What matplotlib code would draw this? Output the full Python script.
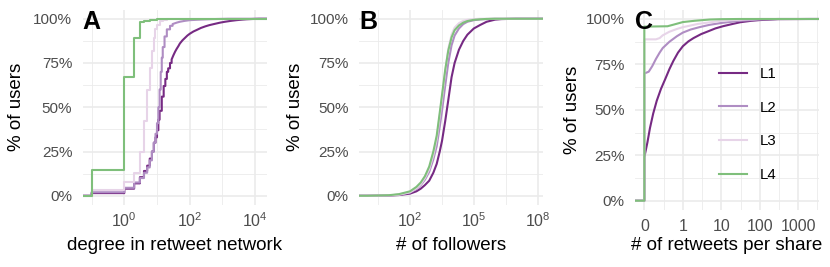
import numpy as np
import matplotlib.pyplot as plt
from matplotlib.ticker import FixedLocator, FixedFormatter, NullFormatter

plt.rcParams['font.family'] = ['Liberation Sans', 'DejaVu Sans']
plt.rcParams['mathtext.fontset'] = 'custom'
plt.rcParams['mathtext.rm'] = 'Liberation Sans'
plt.rcParams['mathtext.it'] = 'Liberation Sans:italic'

# ---- data ----
series = ['L1', 'L2', 'L3', 'L4']
colors = ['#762a83', '#af8dc3', '#e7d4e8', '#7fbf7b']

# A: degree in retweet network (degree 0 drawn at 0.1), cumulative % of users
deg_l1 = [0.1, 1, 2, 3, 4, 5, 6, 7, 8, 9, 10, 11, 12, 14, 16, 18, 20, 22, 25, 28,
          32, 36, 40, 45, 50, 60, 70, 85, 100, 130, 170, 220, 300, 400, 550, 850,
          1200, 1800, 2700, 4000, 5500, 8000, 13000]
cdf_deg_l1 = [1.5, 4, 7, 10.5, 14, 17, 21, 25, 30, 33, 37, 43, 48, 56, 62, 66, 70, 72,
              75, 77, 79.5, 81.5, 83, 84.5, 86, 87.8, 89, 90.5, 91.5, 92.8, 93.8, 94.8,
              95.7, 96.4, 97, 97.8, 98.3, 98.8, 99.2, 99.5, 99.7, 99.85, 100]
deg_l2 = [0.1, 1, 2, 3, 4, 5, 6, 7, 8, 9, 10, 11, 12, 13, 14, 15, 17, 20, 25, 30,
          40, 50, 70, 100, 200, 500, 1500]
cdf_deg_l2 = [2, 4.5, 7.5, 10, 13, 16, 20, 25, 30, 35, 41, 50, 60, 70, 78, 84, 90, 94,
              96, 97, 97.8, 98.3, 98.8, 99.2, 99.5, 99.8, 100]
deg_l3 = [0.1, 1, 2, 3, 4, 5, 6, 7, 8, 9, 10, 12, 15, 20]
cdf_deg_l3 = [3.2, 8, 13, 25, 42, 60, 72, 82, 89, 94, 96.5, 98.5, 99.5, 100]
deg_l4 = [0.1, 1, 2, 3, 4, 6, 10]
cdf_deg_l4 = [14.6, 67, 89, 98.3, 99, 99.5, 100]

# B: number of followers
followers = [1, 10, 30, 100, 200, 320, 500, 800, 1250, 1800, 2500, 3200, 4500, 6300,
             9000, 12500, 20000, 32000, 50000, 100000, 200000, 400000, 1000000,
             2000000, 10000000, 72000000]
cdf_fol_l1 = [0, 0.1, 0.4, 1.2, 2.5, 4, 6, 8.5, 13, 18, 25, 31, 42, 54, 67, 75, 82.5,
              87.5, 91, 94.5, 96.5, 98.3, 99.5, 99.8, 100, 100]
cdf_fol_l2 = [0, 0.2, 0.6, 1.8, 3.8, 6, 9, 13.5, 20.5, 28, 39, 48, 62, 75, 85, 90.5,
              94.5, 97, 98.3, 99.2, 99.6, 99.8, 100, 100, 100, 100]
cdf_fol_l3 = [0, 0.2, 0.6, 2.0, 4.2, 6.5, 10, 15, 23, 32, 45, 55, 70, 83, 91, 95, 97.5,
              98.8, 99.4, 99.8, 100, 100, 100, 100, 100, 100]
cdf_fol_l4 = [0, 0.3, 0.9, 2.5, 5, 7.5, 11, 16.5, 25, 34, 47, 57, 71, 82, 89.5, 93.5,
              96.2, 97.8, 98.7, 99.4, 99.7, 99.9, 100, 100, 100, 100]

# C: retweets per share (0 drawn at 0.1)
rt_l1 = [0.1, 0.12, 0.14, 0.17, 0.21, 0.27, 0.35, 0.45, 0.57, 0.75, 1.0, 1.4, 1.9, 3,
         4.3, 7, 11, 20, 31, 60, 100, 300, 2000]
cdf_rt_l1 = [24, 32, 40, 48, 55, 61.5, 67, 72.5, 77, 81.5, 85, 87.7, 89.5, 91.7, 93,
             94.8, 96, 97.3, 98.2, 99, 99.4, 99.9, 100]
rt_l2 = [0.1, 0.13, 0.16, 0.2, 0.25, 0.3, 0.45, 0.7, 1.0, 1.6, 2.7, 5, 10, 30, 100, 300]
cdf_rt_l2 = [70, 71, 74, 78, 81.5, 84, 87.5, 90.5, 92.5, 94.2, 95.5, 96.8, 97.8, 99,
             99.7, 100]
rt_l3 = [0.1, 0.2, 0.25, 0.3, 0.45, 0.7, 1.0, 2.5, 10, 50, 100]
cdf_rt_l3 = [88.8, 88.8, 89.5, 91, 93, 94.5, 95.5, 97.3, 99, 99.8, 100]
rt_l4 = [0.1, 0.4, 0.6, 1.0, 2.0, 5.0, 10, 30]
cdf_rt_l4 = [95.8, 96, 97, 98.3, 99, 99.7, 99.9, 100]

W, H = 830, 267
fig = plt.figure(figsize=(W / 100, H / 100), dpi=100)


def add_panel(left, right, top, bottom):
    return fig.add_axes([left / W, 1 - bottom / H, (right - left) / W, (bottom - top) / H])


def ecdf(ax, x, cdf, color, step_max):
    # stepped up to step_max (integer degrees), straight segments beyond
    xs, ys = [1e-6], [0.0]
    for xi, ci in zip(x, cdf):
        if xi <= step_max or xi == x[0]:
            xs += [xi, xi]
            ys += [ys[-1], ci / 100]
        else:
            xs.append(xi)
            ys.append(ci / 100)
    xs.append(1e12)
    ys.append(1.0)
    ax.plot(xs, ys, color=color, lw=1.5)


def style(ax, xlim, majors, labels, minors, xlabel, ylab_x, xlab_y, xpad):
    ax.set_xscale('log')
    ax.set_xlim(*xlim)
    ax.set_ylim(-0.05, 1.05)
    ax.xaxis.set_major_locator(FixedLocator(majors))
    ax.xaxis.set_major_formatter(FixedFormatter(labels))
    ax.xaxis.set_minor_locator(FixedLocator(minors))
    ax.xaxis.set_minor_formatter(NullFormatter())
    ax.yaxis.set_major_locator(FixedLocator([0, 0.25, 0.5, 0.75, 1]))
    ax.yaxis.set_major_formatter(FixedFormatter(['0%', '25%', '50%', '75%', '100%']))
    ax.yaxis.set_minor_locator(FixedLocator([0.125, 0.375, 0.625, 0.875]))
    ax.grid(which='major', color='#ebebeb', lw=1.2)
    ax.grid(which='minor', color='#ebebeb', lw=0.6)
    ax.set_axisbelow(True)
    for s in ax.spines.values():
        s.set_visible(False)
    ax.tick_params(which='both', length=0)
    ax.tick_params(axis='x', pad=xpad, labelsize=11.5, labelcolor='#4d4d4d')
    ax.tick_params(axis='y', pad=7.5, labelsize=11, labelcolor='#4d4d4d')
    ax.set_xlabel(xlabel, fontsize=13.5, va='center')
    ax.set_ylabel('% of users', fontsize=13.5, va='center')
    ax.xaxis.set_label_coords(0.5, xlab_y)
    ax.yaxis.set_label_coords(ylab_x, 0.5)


# panel A
axA = add_panel(82.7, 267, 9.9, 204.6)
for x, c, col in zip([deg_l1, deg_l2, deg_l3, deg_l4],
                     [cdf_deg_l1, cdf_deg_l2, cdf_deg_l3, cdf_deg_l4], colors):
    ecdf(axA, x, c, col, 30)
style(axA, (10 ** -1.272, 10 ** 4.364), [1, 100, 10000],
      [r'$\mathregular{10^{0}}$', r'$\mathregular{10^{2}}$', r'$\mathregular{10^{4}}$'],
      [0.1, 10, 1000], 'degree in retweet network', (17 - 82.7) / 184.3,
      (204.6 - 245) / 194.7, 5)

# panel B
axB = add_panel(359, 543, 9.9, 204.6)
for c, col in zip([cdf_fol_l1, cdf_fol_l2, cdf_fol_l3, cdf_fol_l4], colors):
    ecdf(axB, followers, c, col, 0)
style(axB, (10 ** -0.398, 10 ** 8.253), [1e2, 1e5, 1e8],
      [r'$\mathregular{10^{2}}$', r'$\mathregular{10^{5}}$', r'$\mathregular{10^{8}}$'],
      [10 ** 0.5, 10 ** 3.5, 10 ** 6.5], '# of followers', (295 - 359) / 184,
      (204.6 - 245) / 194.7, 5)

# panel C
axC = add_panel(635, 819, 9.9, 209.8)
for x, c, col in zip([rt_l1, rt_l2, rt_l3, rt_l4],
                     [cdf_rt_l1, cdf_rt_l2, cdf_rt_l3, cdf_rt_l4], colors):
    ecdf(axC, x, c, col, 0)
style(axC, (10 ** -1.243, 10 ** 3.54), [0.1, 1, 10, 100, 1000],
      ['0', '1', '10', '100', '1000'],
      [10 ** -0.5, 10 ** 0.5, 10 ** 1.5, 10 ** 2.5, 10 ** 3.5],
      '# of retweets per share', (572 - 635) / 184, (209.8 - 245) / 199.9, 6.5)

handles = [plt.Line2D([], [], color=col, lw=1.5) for col in colors]
axC.legend(handles, series, loc='upper left', bbox_to_anchor=(719 / W, 1 - 67 / H),
           bbox_transform=fig.transFigure, frameon=False, fontsize=10.8,
           borderpad=0, borderaxespad=0, handlelength=1.87, handletextpad=0.87,
           labelspacing=1.31)

for ax, lab in zip([axA, axB, axC], 'ABC'):
    ax.text(0, 1, lab, transform=ax.transAxes, ha='left', va='top',
            fontsize=18, fontweight='bold', zorder=10)

fig.savefig('out.png', dpi=100)
